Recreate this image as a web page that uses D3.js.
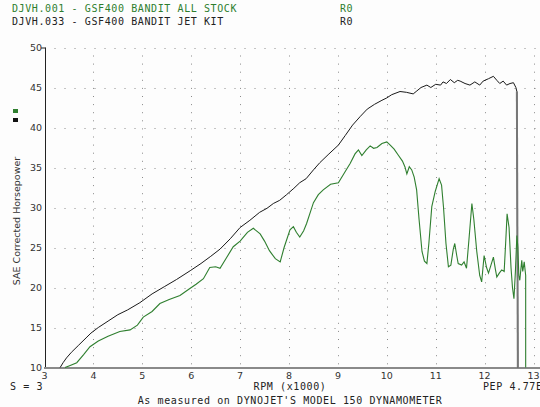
<!DOCTYPE html>
<html><head><meta charset="utf-8">
<script src="https://cdn.jsdelivr.net/npm/d3@7"></script>
<style>
html,body{margin:0;padding:0;background:#fdfdfd;}
svg{display:block;}
.mono{font-family:"DejaVu Sans Mono",monospace;font-size:10px;letter-spacing:0.6px;}
.tick{font-family:"DejaVu Sans",sans-serif;font-size:9.5px;fill:#333;}
</style></head>
<body>
<script>
// ---- data ----
const xTicks = [3,4,5,6,7,8,9,10,11,12,13];
const yTicks = [10,15,20,25,30,35,40,45,50];
const legendNames = ["DJVH.001 - GSF400 BANDIT ALL STOCK","DJVH.033 - GSF400 BANDIT JET KIT"];
const legendRuns = ["R0","R0"];
const jetKit = [[3.32,10],[3.38,10.6],[3.45,11.2],[3.55,11.9],[3.7,12.8],[3.85,13.7],[3.95,14.3],[4.1,15.0],[4.3,15.8],[4.5,16.6],[4.7,17.2],[4.95,18.1],[5.2,19.2],[5.45,20.1],[5.7,21.0],[5.98,22.1],[6.2,23.0],[6.4,23.9],[6.59,24.8],[6.8,26.1],[7.0,27.5],[7.2,28.4],[7.4,29.4],[7.55,29.9],[7.68,30.5],[7.81,30.9],[7.95,31.6],[8.1,32.4],[8.22,33.1],[8.35,33.6],[8.5,34.7],[8.63,35.6],[8.8,36.6],[9.01,37.8],[9.15,39.0],[9.3,40.3],[9.46,41.4],[9.6,42.3],[9.75,42.9],[9.9,43.4],[10.0,43.7],[10.1,44.1],[10.27,44.5],[10.4,44.4],[10.54,44.2],[10.6,44.5],[10.7,45.0],[10.82,45.3],[10.9,45.0],[11.0,45.4],[11.1,45.3],[11.15,45.7],[11.22,45.5],[11.3,46.0],[11.38,45.6],[11.45,45.9],[11.5,45.8],[11.6,45.5],[11.7,45.3],[11.8,45.7],[11.9,45.3],[11.97,45.8],[12.08,46.1],[12.18,46.4],[12.25,45.9],[12.31,45.5],[12.38,45.8],[12.45,45.3],[12.52,45.5],[12.59,45.6],[12.64,45.0],[12.66,44.5],[12.68,10]];
const allStock = [[3.42,10],[3.5,10.2],[3.66,10.6],[3.8,11.6],[3.93,12.6],[4.1,13.3],[4.3,13.9],[4.54,14.5],[4.75,14.7],[4.9,15.3],[5.02,16.3],[5.2,17.0],[5.36,18.0],[5.55,18.5],[5.77,19.0],[5.98,19.9],[6.1,20.4],[6.25,21.1],[6.38,22.5],[6.5,22.6],[6.59,22.4],[6.7,23.5],[6.86,25.1],[7.0,25.8],[7.15,26.9],[7.27,27.4],[7.41,26.7],[7.5,25.8],[7.6,24.6],[7.72,23.6],[7.82,23.2],[7.9,25.0],[8.02,27.2],[8.09,27.6],[8.15,26.9],[8.22,26.3],[8.3,27.1],[8.36,28.0],[8.5,30.6],[8.6,31.6],[8.7,32.2],[8.85,32.9],[9.01,33.1],[9.15,34.5],[9.25,35.5],[9.35,36.7],[9.42,37.2],[9.49,36.5],[9.58,37.2],[9.66,37.7],[9.73,37.4],[9.8,37.5],[9.9,38.0],[10.0,38.2],[10.07,37.8],[10.15,37.3],[10.24,36.5],[10.32,35.8],[10.37,35.1],[10.41,34.2],[10.46,35.1],[10.51,34.7],[10.56,33.8],[10.61,32.2],[10.66,28.5],[10.72,24.5],[10.77,23.3],[10.82,23.0],[10.86,25.5],[10.92,30.1],[10.99,32.0],[11.07,33.6],[11.12,32.8],[11.16,30.0],[11.21,25.5],[11.26,22.6],[11.31,22.8],[11.36,24.8],[11.39,25.5],[11.43,24.0],[11.46,23.0],[11.53,22.8],[11.58,23.2],[11.63,22.4],[11.68,26.0],[11.74,30.5],[11.78,28.5],[11.84,24.5],[11.9,21.5],[11.94,20.7],[11.99,24.0],[12.04,22.5],[12.08,21.8],[12.13,22.8],[12.18,23.8],[12.22,22.3],[12.25,21.3],[12.3,21.8],[12.35,22.2],[12.4,22.0],[12.43,25.5],[12.46,29.2],[12.5,27.5],[12.54,22.5],[12.57,20.0],[12.6,18.6],[12.63,22.0],[12.66,26.5],[12.68,25.0],[12.7,21.5],[12.72,20.9],[12.76,23.4],[12.78,22.0],[12.81,23.2],[12.84,21.5],[12.84,10]];

const W=540,H=407;
const green="#2f7f2f", greenText="#2e7d2e", black="#1a1a1a";
const x=d3.scaleLinear().domain([3,13]).range([44.5,533.5]);
const y=d3.scaleLinear().domain([10,50]).range([367.5,47.5]);

const svg=d3.select("body").append("svg").attr("width",W).attr("height",H);
svg.append("rect").attr("width",W).attr("height",H).attr("fill","#fdfdfd");

// legend text
const leg=svg.append("g");
legendNames.forEach((t,i)=>{
  const c=i===0?greenText:"#222";
  leg.append("text").attr("class","mono").attr("x",12).attr("y",12+i*12.5).attr("fill",c).text(t);
  leg.append("text").attr("class","mono").attr("x",340).attr("y",12+i*12.5).attr("fill",c).text(legendRuns[i]);
});

// grid
const grid=svg.append("g").attr("stroke","#8a8a8a").attr("stroke-width",1);
yTicks.forEach(v=>{
  grid.append("line").attr("x1",x(3)+10).attr("x2",W).attr("y1",Math.round(y(v))+0.5).attr("y2",Math.round(y(v))+0.5)
    .attr("stroke-dasharray","1,9");
});
xTicks.slice(1).forEach(v=>{
  grid.append("line").attr("x1",Math.round(x(v))+0.5).attr("x2",Math.round(x(v))+0.5).attr("y1",y(50)+8).attr("y2",y(10))
    .attr("stroke-dasharray","1,7.1");
});

// axes
svg.append("line").attr("x1",45.5).attr("x2",45.5).attr("y1",y(50)).attr("y2",y(10)).attr("stroke","#222");
svg.append("line").attr("x1",41).attr("x2",45.5).attr("y1",y(50)+0.5).attr("y2",y(50)+0.5).attr("stroke","#222");
svg.append("line").attr("x1",44).attr("x2",W).attr("y1",y(10)+0.5).attr("y2",y(10)+0.5).attr("stroke","#8a8a8a").attr("stroke-width",2);

// tick labels
svg.append("g").selectAll("text").data(yTicks).join("text").attr("class","tick")
  .attr("x",42).attr("y",d=>y(d)+3.5).attr("text-anchor","end").text(d=>d);
svg.append("g").selectAll("text").data(xTicks).join("text").attr("class","tick")
  .attr("x",d=>x(d)).attr("y",379).attr("text-anchor","middle").text(d=>d);

// y title + legend squares
svg.append("text").attr("class","tick").attr("transform","translate(20,221) rotate(-90)")
  .attr("text-anchor","middle").style("font-size","9.5px").text("SAE Corrected Horsepower");
svg.append("rect").attr("x",13).attr("y",109).attr("width",5).attr("height",4).attr("fill",green);
svg.append("rect").attr("x",13).attr("y",118).attr("width",5).attr("height",4).attr("fill","#111");

// bottom texts
svg.append("text").attr("class","mono").attr("x",10).attr("y",390).attr("fill","#222").text("S = 3");
svg.append("text").attr("class","mono").attr("x",290).attr("y",390).attr("text-anchor","middle").attr("fill","#222").text("RPM (x1000)");
svg.append("text").attr("class","mono").attr("x",483).attr("y",390).attr("fill","#222").text("PEP 4.77E");
svg.append("text").attr("class","mono").attr("x",290).attr("y",404).attr("text-anchor","middle").attr("fill","#222").text("As measured on DYNOJET'S MODEL 150 DYNAMOMETER");

// curves
const line=d3.line().x(d=>x(d[0])).y(d=>y(d[1]));
svg.append("path").datum(jetKit).attr("d",line).attr("fill","none").attr("stroke",black).attr("stroke-width",1);
const n=jetKit.length;
svg.append("path").datum(jetKit.slice(n-2)).attr("d",line).attr("fill","none").attr("stroke","#777").attr("stroke-width",2);
svg.append("path").datum(allStock).attr("d",line).attr("fill","none").attr("stroke",green).attr("stroke-width",1.1);
</script>
</body></html>
